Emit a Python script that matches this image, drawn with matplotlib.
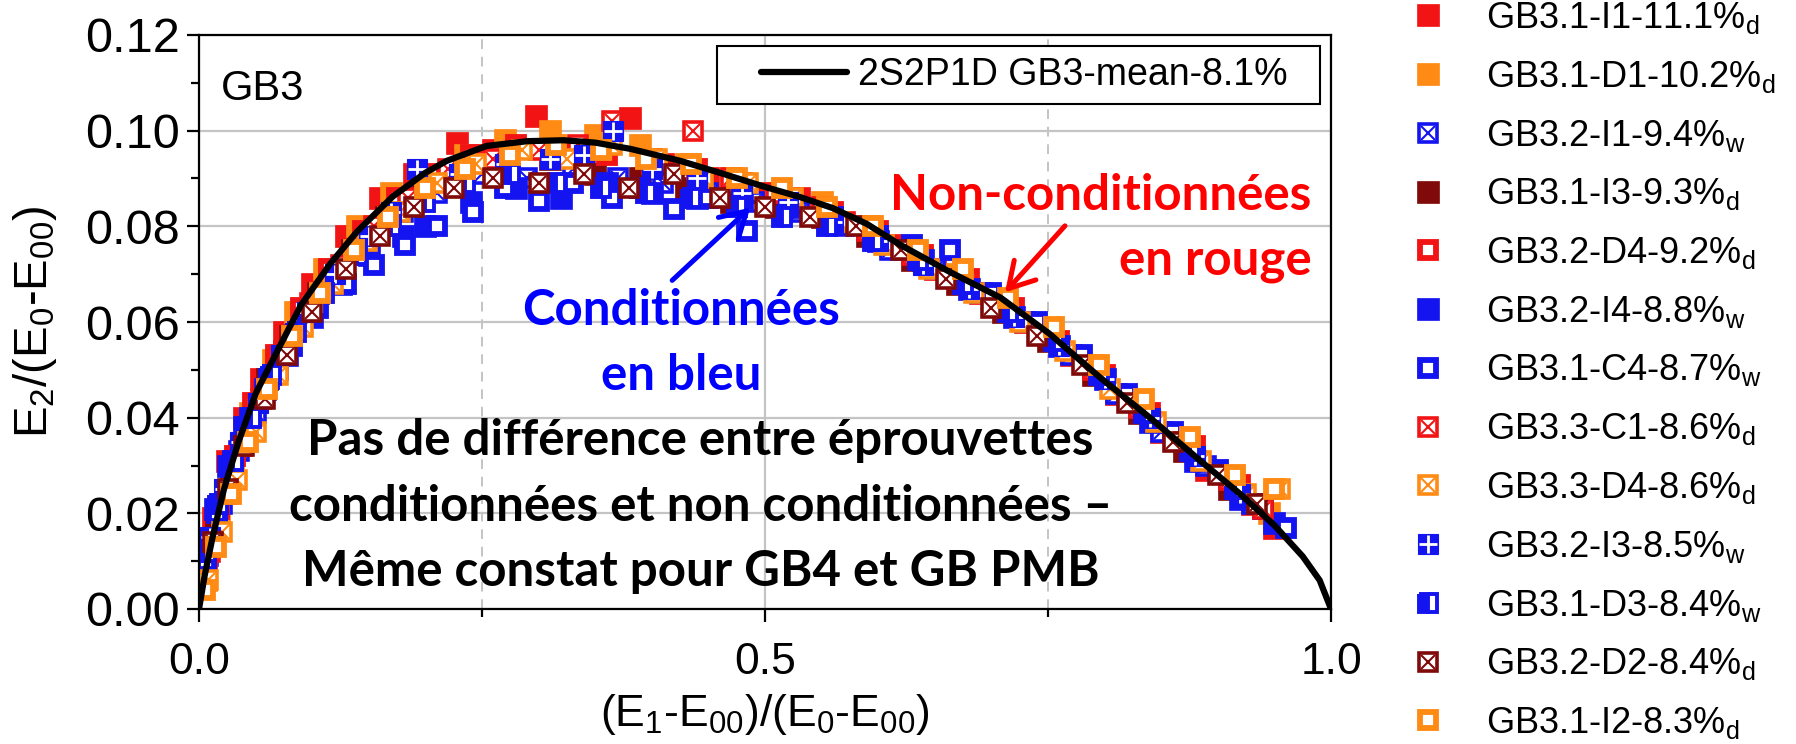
import matplotlib
matplotlib.use('Agg')
import matplotlib.pyplot as plt
from matplotlib.lines import Line2D
from matplotlib.legend_handler import HandlerLine2D

plt.rcParams['font.family'] = ['Liberation Sans', 'DejaVu Sans']
plt.rcParams['mathtext.fontset'] = 'custom'
plt.rcParams['mathtext.rm'] = 'Liberation Sans'
plt.rcParams['mathtext.it'] = 'Liberation Sans:italic'
plt.rcParams['mathtext.default'] = 'regular'

# ---------------- data ----------------
series_labels = [
    'GB3.1-I1-11.1%$_d$', 'GB3.1-D1-10.2%$_d$', 'GB3.2-I1-9.4%$_w$',
    'GB3.1-I3-9.3%$_d$', 'GB3.2-D4-9.2%$_d$', 'GB3.2-I4-8.8%$_w$',
    'GB3.1-C4-8.7%$_w$', 'GB3.3-C1-8.6%$_d$', 'GB3.3-D4-8.6%$_d$',
    'GB3.2-I3-8.5%$_w$', 'GB3.1-D3-8.4%$_w$', 'GB3.2-D2-8.4%$_d$',
    'GB3.1-I2-8.3%$_d$',
]

x_i1 = [0.004, 0.012, 0.025, 0.04, 0.055, 0.075, 0.10, 0.13, 0.16, 0.19, 0.228, 0.26, 0.298, 0.34, 0.381, 0.41, 0.45, 0.49, 0.53, 0.57, 0.61, 0.65, 0.69, 0.73, 0.77, 0.81, 0.85, 0.89, 0.93, 0.95]
y_i1 = [0.008, 0.019, 0.031, 0.040, 0.048, 0.058, 0.068, 0.078, 0.086, 0.091, 0.0975, 0.096, 0.103, 0.094, 0.1027, 0.093, 0.090, 0.087, 0.086, 0.081, 0.076, 0.071, 0.066, 0.060, 0.053, 0.045, 0.037, 0.029, 0.022, 0.017]

x_d1 = [0.006, 0.018, 0.03, 0.045, 0.065, 0.085, 0.11, 0.14, 0.17, 0.20, 0.235, 0.27, 0.31, 0.35, 0.39, 0.43, 0.47, 0.51, 0.55, 0.59, 0.63, 0.67, 0.71, 0.75, 0.79, 0.83, 0.87, 0.91, 0.945]
y_d1 = [0.006, 0.020, 0.030, 0.041, 0.052, 0.062, 0.071, 0.080, 0.087, 0.090, 0.095, 0.098, 0.100, 0.099, 0.097, 0.093, 0.090, 0.087, 0.085, 0.080, 0.075, 0.070, 0.064, 0.058, 0.051, 0.043, 0.035, 0.027, 0.020]

x_i1w = [0.008, 0.02, 0.035, 0.05, 0.07, 0.095, 0.12, 0.15, 0.18, 0.21, 0.25, 0.29, 0.33, 0.37, 0.41, 0.45, 0.49, 0.53, 0.57, 0.61, 0.65, 0.69, 0.73, 0.77, 0.81, 0.85, 0.89, 0.93]
y_i1w = [0.011, 0.022, 0.033, 0.041, 0.050, 0.061, 0.070, 0.078, 0.083, 0.087, 0.091, 0.090, 0.092, 0.090, 0.089, 0.087, 0.085, 0.083, 0.080, 0.075, 0.071, 0.066, 0.060, 0.053, 0.045, 0.037, 0.030, 0.022]

x_i3 = [0.005, 0.015, 0.028, 0.042, 0.06, 0.08, 0.105, 0.135, 0.165, 0.195, 0.23, 0.27, 0.31, 0.35, 0.39, 0.43, 0.47, 0.51, 0.55, 0.59, 0.63, 0.67, 0.71, 0.75, 0.79, 0.83, 0.87, 0.91]
y_i3 = [0.007, 0.018, 0.029, 0.038, 0.048, 0.057, 0.066, 0.075, 0.082, 0.087, 0.089, 0.092, 0.094, 0.091, 0.090, 0.088, 0.085, 0.084, 0.082, 0.078, 0.073, 0.068, 0.062, 0.056, 0.049, 0.041, 0.033, 0.025]

x_d4 = [0.007, 0.018, 0.032, 0.048, 0.068, 0.09, 0.115, 0.145, 0.175, 0.205, 0.24, 0.28, 0.32, 0.36, 0.40, 0.44, 0.48, 0.52, 0.56, 0.60, 0.64, 0.68, 0.72, 0.76, 0.80, 0.84, 0.88, 0.92]
y_d4 = [0.010, 0.021, 0.032, 0.043, 0.053, 0.063, 0.071, 0.079, 0.086, 0.091, 0.095, 0.097, 0.096, 0.095, 0.094, 0.092, 0.089, 0.086, 0.083, 0.079, 0.074, 0.069, 0.063, 0.056, 0.049, 0.041, 0.034, 0.026]

x_i4 = [0.004, 0.014, 0.026, 0.04, 0.058, 0.078, 0.10, 0.125, 0.15, 0.18, 0.20, 0.24, 0.28, 0.32, 0.36, 0.40, 0.44, 0.48, 0.52, 0.56, 0.60, 0.64, 0.68, 0.72, 0.76, 0.80, 0.84, 0.88, 0.92, 0.95]
y_i4 = [0.009, 0.021, 0.030, 0.038, 0.046, 0.053, 0.061, 0.068, 0.074, 0.078, 0.080, 0.085, 0.088, 0.086, 0.089, 0.087, 0.086, 0.086, 0.084, 0.081, 0.077, 0.073, 0.067, 0.061, 0.055, 0.048, 0.039, 0.031, 0.023, 0.018]

x_c4 = [0.006, 0.016, 0.03, 0.045, 0.062, 0.082, 0.105, 0.13, 0.155, 0.182, 0.21, 0.242, 0.27, 0.30, 0.33, 0.365, 0.39, 0.42, 0.45, 0.484, 0.52, 0.56, 0.60, 0.63, 0.663, 0.70, 0.74, 0.78, 0.82, 0.86, 0.90, 0.94, 0.96]
y_c4 = [0.010, 0.020, 0.031, 0.040, 0.048, 0.055, 0.063, 0.068, 0.072, 0.076, 0.080, 0.083, 0.088, 0.0853, 0.089, 0.086, 0.088, 0.0837, 0.086, 0.079, 0.085, 0.082, 0.078, 0.076, 0.075, 0.066, 0.060, 0.053, 0.045, 0.037, 0.029, 0.021, 0.017]

x_c1 = [0.01, 0.024, 0.038, 0.055, 0.075, 0.098, 0.125, 0.155, 0.185, 0.22, 0.26, 0.30, 0.335, 0.365, 0.40, 0.436, 0.47, 0.51, 0.55, 0.59, 0.63, 0.67, 0.71, 0.75, 0.79, 0.83, 0.87, 0.91, 0.94]
y_c1 = [0.012, 0.024, 0.034, 0.044, 0.054, 0.064, 0.072, 0.080, 0.086, 0.092, 0.094, 0.096, 0.097, 0.102, 0.093, 0.100, 0.090, 0.087, 0.084, 0.079, 0.074, 0.069, 0.063, 0.057, 0.050, 0.042, 0.035, 0.027, 0.021]

x_d4b = [0.008, 0.02, 0.034, 0.05, 0.07, 0.092, 0.118, 0.148, 0.178, 0.21, 0.245, 0.285, 0.325, 0.365, 0.405, 0.445, 0.485, 0.525, 0.565, 0.605, 0.645, 0.685, 0.725, 0.765, 0.805, 0.845, 0.885, 0.925, 0.955]
y_d4b = [0.006, 0.016, 0.027, 0.037, 0.049, 0.059, 0.068, 0.077, 0.083, 0.089, 0.093, 0.096, 0.094, 0.097, 0.094, 0.090, 0.089, 0.086, 0.081, 0.076, 0.071, 0.066, 0.060, 0.054, 0.046, 0.039, 0.031, 0.024, 0.025]

x_i3w = [0.01, 0.022, 0.036, 0.052, 0.072, 0.095, 0.12, 0.15, 0.17, 0.193, 0.23, 0.27, 0.31, 0.34, 0.366, 0.40, 0.44, 0.48, 0.52, 0.56, 0.60, 0.64, 0.68, 0.72, 0.76, 0.80, 0.84, 0.88, 0.92]
y_i3w = [0.015, 0.025, 0.035, 0.043, 0.053, 0.062, 0.070, 0.078, 0.083, 0.092, 0.091, 0.093, 0.094, 0.095, 0.100, 0.092, 0.090, 0.087, 0.085, 0.081, 0.077, 0.072, 0.067, 0.061, 0.055, 0.048, 0.040, 0.032, 0.024]

x_d3 = [0.006, 0.017, 0.03, 0.046, 0.064, 0.086, 0.11, 0.14, 0.17, 0.2, 0.235, 0.275, 0.315, 0.355, 0.395, 0.435, 0.475, 0.515, 0.555, 0.595, 0.635, 0.675, 0.715, 0.755, 0.795, 0.835, 0.875, 0.915]
y_d3 = [0.012, 0.022, 0.031, 0.040, 0.049, 0.058, 0.066, 0.074, 0.080, 0.085, 0.089, 0.091, 0.089, 0.088, 0.087, 0.086, 0.084, 0.082, 0.080, 0.077, 0.073, 0.068, 0.062, 0.056, 0.049, 0.041, 0.033, 0.025]

x_d2 = [0.012, 0.026, 0.04, 0.058, 0.078, 0.10, 0.13, 0.16, 0.19, 0.225, 0.26, 0.30, 0.34, 0.38, 0.42, 0.46, 0.50, 0.54, 0.58, 0.62, 0.66, 0.70, 0.74, 0.78, 0.82, 0.86, 0.90, 0.935]
y_d2 = [0.014, 0.025, 0.034, 0.044, 0.053, 0.062, 0.071, 0.078, 0.084, 0.088, 0.090, 0.089, 0.091, 0.088, 0.091, 0.086, 0.084, 0.082, 0.080, 0.075, 0.069, 0.063, 0.057, 0.051, 0.043, 0.035, 0.028, 0.022]

x_i2 = [0.005, 0.015, 0.028, 0.043, 0.06, 0.082, 0.107, 0.137, 0.167, 0.2, 0.235, 0.275, 0.315, 0.355, 0.395, 0.435, 0.475, 0.515, 0.555, 0.595, 0.635, 0.675, 0.715, 0.755, 0.795, 0.835, 0.875, 0.915, 0.95]
y_i2 = [0.004, 0.013, 0.024, 0.035, 0.046, 0.057, 0.066, 0.075, 0.082, 0.088, 0.092, 0.095, 0.097, 0.096, 0.094, 0.093, 0.090, 0.088, 0.084, 0.080, 0.075, 0.071, 0.065, 0.059, 0.051, 0.044, 0.036, 0.028, 0.025]

# 2S2P1D mean model curve
model_label = '2S2P1D GB3-mean-8.1%'
model_x = [0, 0.005, 0.012, 0.022, 0.035, 0.05, 0.065, 0.09, 0.116, 0.14, 0.171, 0.2, 0.219, 0.254, 0.29, 0.322, 0.35, 0.381, 0.425, 0.46, 0.502, 0.53, 0.56, 0.59, 0.619, 0.663, 0.708, 0.751, 0.796, 0.84, 0.884, 0.92, 0.95, 0.975, 0.99, 1.0]
model_y = [0, 0.007, 0.015, 0.025, 0.035, 0.045, 0.052, 0.0635, 0.0722, 0.079, 0.0862, 0.0912, 0.0937, 0.0968, 0.0978, 0.098, 0.0975, 0.0962, 0.0937, 0.0912, 0.0881, 0.0862, 0.0838, 0.0805, 0.0762, 0.0705, 0.0651, 0.0576, 0.0484, 0.040, 0.0311, 0.024, 0.0175, 0.011, 0.006, 0]

xticks = [0.0, 0.5, 1.0]
xtick_labels = ['0.0', '0.5', '1.0']
yticks = [0.00, 0.02, 0.04, 0.06, 0.08, 0.10, 0.12]
ytick_labels = ['0.00', '0.02', '0.04', '0.06', '0.08', '0.10', '0.12']

series_x = [x_i1, x_d1, x_i1w, x_i3, x_d4, x_i4, x_c4, x_c1, x_d4b, x_i3w, x_d3, x_d2, x_i2]
series_y = [y_i1, y_d1, y_i1w, y_i3, y_d4, y_i4, y_c4, y_c1, y_d4b, y_i3w, y_d3, y_d2, y_i2]

RED = '#f21414'
ORANGE = '#ff8a14'
BLUE = '#1414f0'
DARKRED = '#800a0a'
series_style = [
    ('filled', RED), ('filled', ORANGE), ('boxx', BLUE), ('filled', DARKRED),
    ('open', RED), ('filled', BLUE), ('open', BLUE), ('boxx', RED),
    ('boxx', ORANGE), ('boxplus', BLUE), ('half', BLUE), ('boxx', DARKRED),
    ('open', ORANGE),
]

# ---------------- figure ----------------
W, H = 1796, 744
fig = plt.figure(figsize=(W / 100, H / 100), dpi=100)
ax = fig.add_axes([199 / W, 1 - 609 / H, 1132 / W, 574 / H])


def draw(x, y, kind, color):
    if kind == 'filled':
        return ax.plot(x, y, ls='none', marker='s', ms=16, mfc=color, mec=color, mew=0.5)[0]
    if kind == 'open':
        return ax.plot(x, y, ls='none', marker='s', ms=11.5, mfc='white', mec=color, mew=4.2)[0]
    if kind == 'boxx':
        h1 = ax.plot(x, y, ls='none', marker='s', ms=13.5, mfc='white', mec=color, mew=2.6)[0]
        h2 = ax.plot(x, y, ls='none', marker='x', ms=9.5, mec=color, mew=1.5)[0]
        return (h1, h2)
    if kind == 'boxplus':
        h1 = ax.plot(x, y, ls='none', marker='s', ms=15, mfc=color, mec=color, mew=0.8)[0]
        h2 = ax.plot(x, y, ls='none', marker='+', ms=13, mec='white', mew=2.0)[0]
        return (h1, h2)
    if kind == 'half':
        return ax.plot(x, y, ls='none', marker='s', ms=13, fillstyle='left', mfc=color,
                       markerfacecoloralt='white', mec=color, mew=2.8)[0]


handles = []
for xs, ys, (kind, col) in zip(series_x, series_y, series_style):
    handles.append(draw(xs, ys, kind, col))

model_line, = ax.plot(model_x, model_y, color='black', lw=4.5, zorder=6,
                      solid_capstyle='round', label=model_label)

ax.set_xlim(0, 1.0)
ax.set_ylim(0, 0.12)
ax.set_xticks(xticks)
ax.set_xticklabels(xtick_labels)
ax.set_xticks([0.25, 0.75], minor=True)
ax.set_yticks(yticks)
ax.set_yticklabels(ytick_labels)
ax.set_yticks([0.01, 0.03, 0.05, 0.07, 0.09, 0.11], minor=True)

ax.tick_params(axis='both', which='major', labelsize=35, width=1.6, length=9, direction='out')
ax.tick_params(axis='both', which='minor', width=1.6, length=6, direction='out')
ax.tick_params(axis='x', which='major', pad=15, labelsize=32)
ax.tick_params(axis='y', which='major', pad=5)
for sp in ax.spines.values():
    sp.set_linewidth(1.6)
    sp.set_zorder(7)

ax.set_axisbelow(True)
ax.yaxis.grid(True, which='major', color='#c4c4c4', lw=1.6)
ax.xaxis.grid(True, which='major', color='#c4c4c4', lw=1.6)
ax.xaxis.grid(True, which='minor', color='#c4c4c4', lw=1.4, linestyle=(0, (5, 4)))

ax.set_xlabel('(E$_1$-E$_{00}$)/(E$_0$-E$_{00}$)', fontsize=32)
ax.set_ylabel('E$_2$/(E$_0$-E$_{00}$)', fontsize=34)
ax.xaxis.set_label_coords(0.5, -0.145)
ax.yaxis.set_label_coords(-0.124, 0.5)

ax.text(0.019, 0.887, 'GB3', transform=ax.transAxes, fontsize=30, va='baseline', ha='left')


class PaddedLineHandler(HandlerLine2D):
    """Legend line drawn with empty space before it (as in the reference box)."""
    def create_artists(self, legend, orig_handle, xdescent, ydescent, width, height,
                       fontsize, trans):
        pad = 0.27 * width
        yc = (height - ydescent) / 2.0
        line = Line2D([-xdescent + pad, -xdescent + width], [yc, yc])
        self.update_prop(line, orig_handle, legend)
        line.set_transform(trans)
        return [line]


leg = ax.legend(handles=[model_line], labels=[model_label + '  '], loc='upper right',
                bbox_to_anchor=(0.99, 0.981), borderaxespad=0, fontsize=27,
                handlelength=3.15, handletextpad=0.3, borderpad=0.3, fancybox=False,
                edgecolor='black', framealpha=1,
                handler_map={model_line: PaddedLineHandler()})
leg.get_frame().set_linewidth(1.5)
leg.set_zorder(8)

bold = dict(family=['Lato', 'DejaVu Sans'], weight='bold', fontsize=35.5)
# va='baseline' on multi-line text anchors the last line's baseline
ax.text(0.983, 0.582, 'Non-conditionnées\nen rouge', transform=ax.transAxes, ha='right',
        va='baseline', multialignment='right', color='#ff0000', linespacing=1.55, zorder=9, **bold)
ax.text(0.426, 0.3815, 'Conditionnées\nen bleu', transform=ax.transAxes, ha='center',
        va='baseline', multialignment='center', color='#0000ff', linespacing=1.55, zorder=9, **bold)
ax.text(0.443, 0.04, 'Pas de différence entre éprouvettes\nconditionnées et non conditionnées –\n'
        'Même constat pour GB4 et GB PMB', transform=ax.transAxes, ha='center', va='baseline',
        multialignment='center', color='black', linespacing=1.55, zorder=9, **bold)

# arrows (annotation positions in data units)
blue_tail, blue_tip = (0.418, 0.0687), (0.487, 0.0839)
red_tail, red_tip = (0.765, 0.0801), (0.712, 0.0662)
ax.annotate('', xy=blue_tip, xytext=blue_tail, zorder=9,
            arrowprops=dict(arrowstyle='->,head_length=0.6,head_width=0.35', color='#0000ff',
                            lw=3.6, mutation_scale=30, shrinkA=0, shrinkB=0))
ax.annotate('', xy=red_tip, xytext=red_tail, zorder=9,
            arrowprops=dict(arrowstyle='->,head_length=0.6,head_width=0.35', color='#ff0000',
                            lw=3.6, mutation_scale=30, shrinkA=0, shrinkB=0))

fig.legend(handles, series_labels, loc='upper left', bbox_to_anchor=(1410 / W, 1.0),
           frameon=False, fontsize=26, handlelength=1.0, handletextpad=1.1,
           labelspacing=0.63, borderpad=0, borderaxespad=0)

fig.savefig('out.png', dpi=100)
